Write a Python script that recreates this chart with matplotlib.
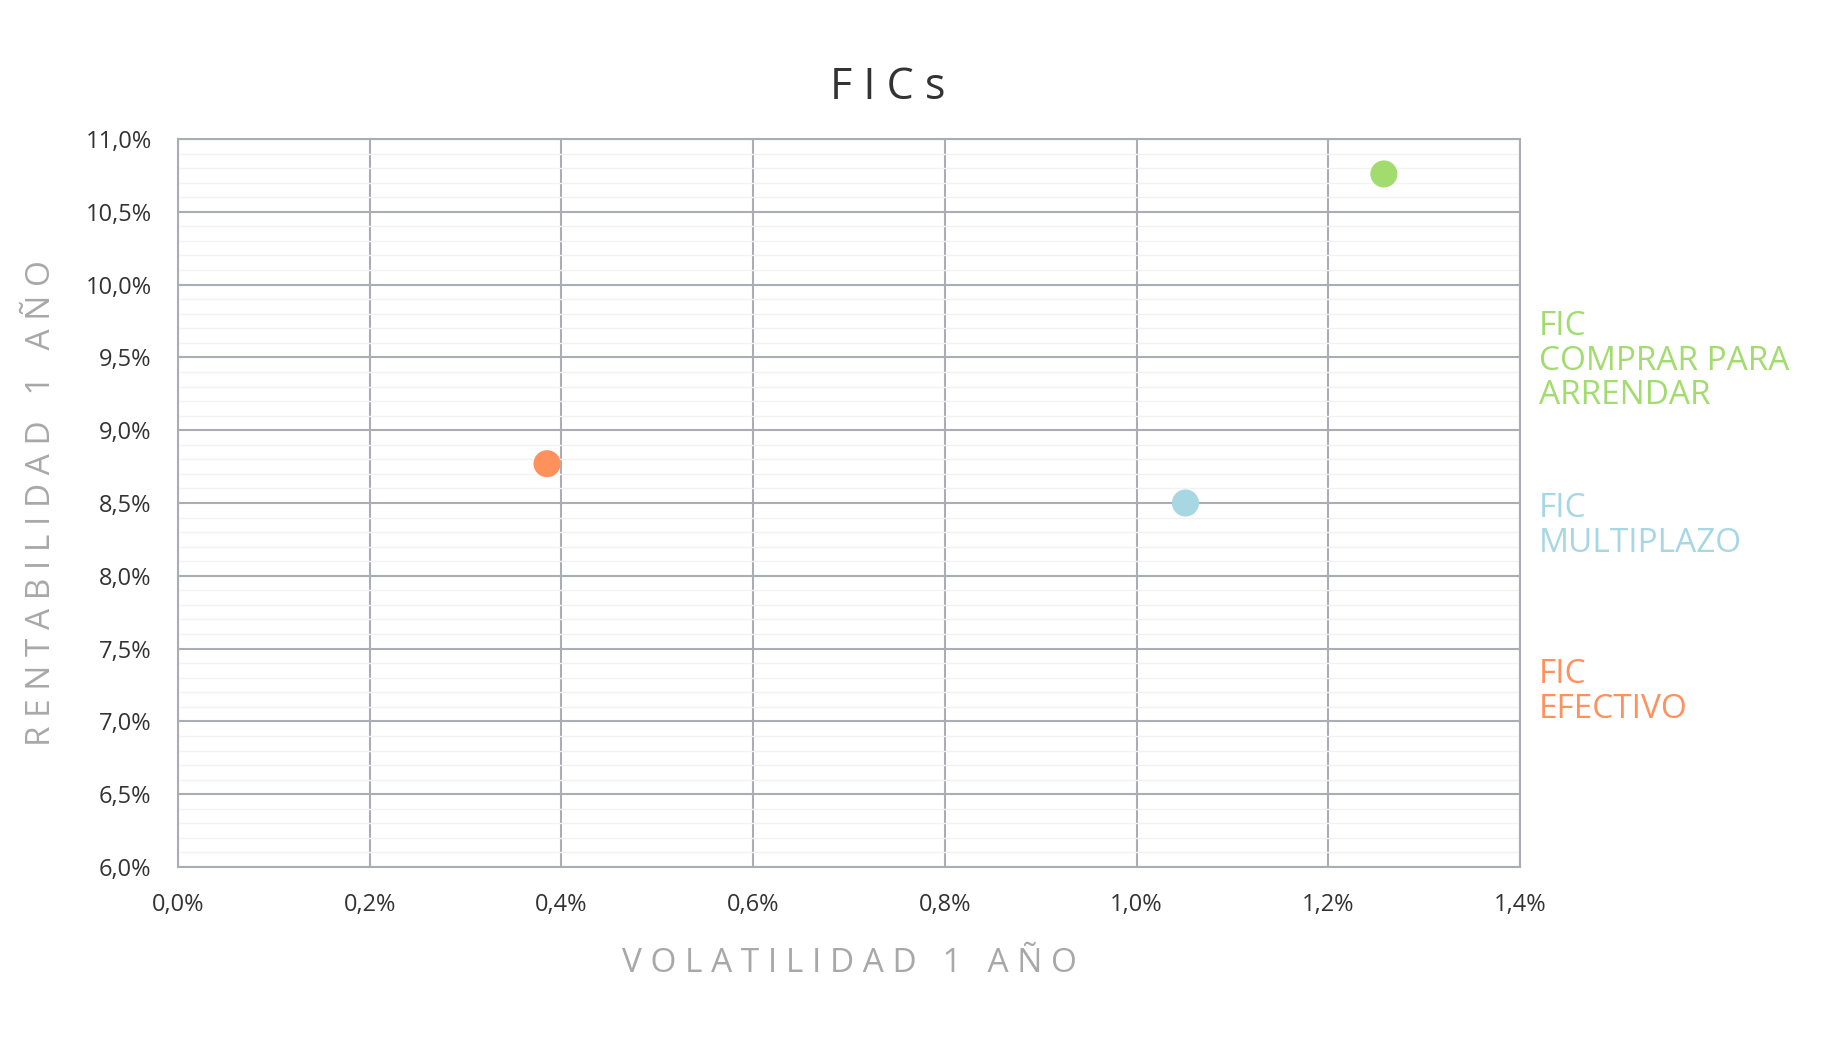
import matplotlib.pyplot as plt
from matplotlib.ticker import FuncFormatter, MultipleLocator

# data (percent)
fondos = ['FIC\nCOMPRAR PARA\nARRENDAR', 'FIC\nMULTIPLAZO', 'FIC\nEFECTIVO']
volatilidad = [1.258, 1.051, 0.385]
rentabilidad = [10.76, 8.50, 8.77]
colores = ['#A3DC6E', '#A6D7E3', '#FF915C']

x_ticks = [0.0, 0.2, 0.4, 0.6, 0.8, 1.0, 1.2, 1.4]
y_ticks = [6.0, 6.5, 7.0, 7.5, 8.0, 8.5, 9.0, 9.5, 10.0, 10.5, 11.0]

plt.rcParams['font.family'] = ['Open Sans', 'DejaVu Sans']

W, H = 1840, 1056
fig = plt.figure(figsize=(W / 100, H / 100), dpi=100)
ax = fig.add_axes([178 / W, 1 - 867 / H, (1520 - 178) / W, (867 - 139) / H])

ax.scatter(volatilidad, rentabilidad, s=380, c=colores, linewidths=0, zorder=3)

ax.set_xlim(x_ticks[0], x_ticks[-1])
ax.set_ylim(y_ticks[0], y_ticks[-1])
ax.set_xticks(x_ticks)
ax.set_yticks(y_ticks)
ax.yaxis.set_minor_locator(MultipleLocator(0.1))

fmt = FuncFormatter(lambda v, p: f'{v:.1f}%'.replace('.', ','))
ax.xaxis.set_major_formatter(fmt)
ax.yaxis.set_major_formatter(fmt)

ax.grid(which='major', color='#AAAEB3', linewidth=1.5)
ax.grid(which='minor', axis='y', color='#F2F2F2', linewidth=1.0)
for s in ax.spines.values():
    s.set_color('#AAAEB3')
    s.set_linewidth(1.5)

ax.tick_params(which='both', length=0, labelsize=17, labelcolor='#333333')
ax.tick_params(axis='y', pad=19)
ax.tick_params(axis='x', pad=19)

ax.set_xlabel('V O L A T I L I D A D   1   A Ñ O', fontsize=24, color='#A8A8A8',
              labelpad=21)
ax.set_ylabel('R E N T A B I L I D A D   1   A Ñ O', fontsize=24, color='#A8A8A8',
              labelpad=20)

fig.text(888 / W, 1 - 88 / H, 'F I C s', fontsize=31, color='#333333',
         ha='center', va='center')

# labels at the right
label_y = [361, 526, 692]
for txt, col, yy in zip(fondos, colores, label_y):
    fig.text(1539 / W, 1 - yy / H, txt, fontsize=24, color=col,
             ha='left', va='center', linespacing=1.05)

fig.savefig('out.png', dpi=100, facecolor='white')
